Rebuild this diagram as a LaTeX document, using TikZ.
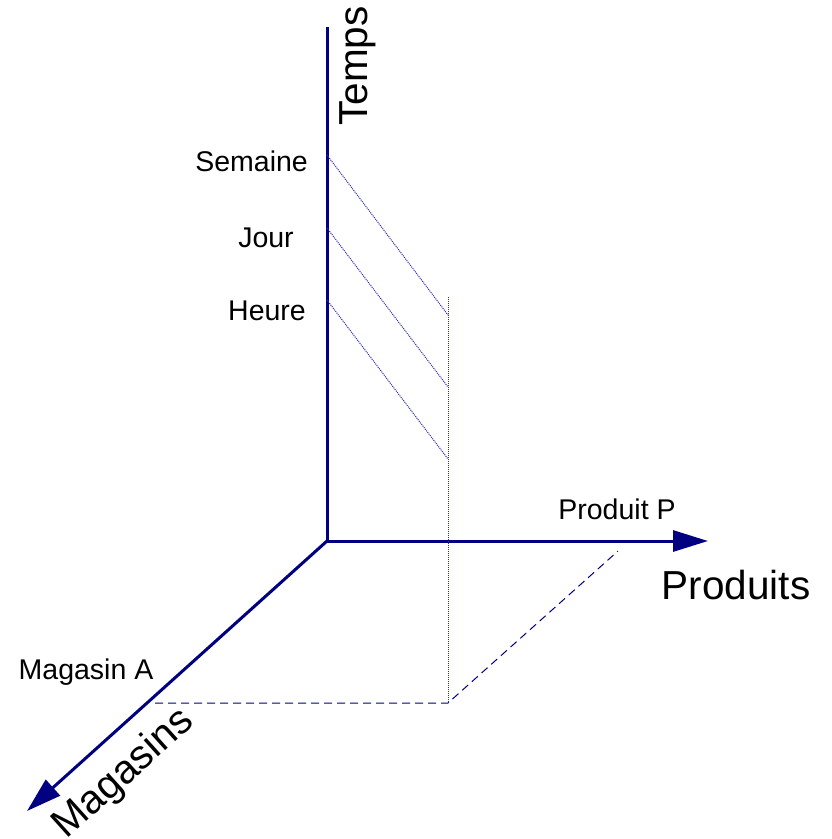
\documentclass[tikz,border=0pt]{standalone}
\usepackage{fontspec}
\setmainfont{Liberation Sans}
\usetikzlibrary{arrows.meta}
\definecolor{axisblue}{RGB}{0,0,128}
\definecolor{guideblue}{RGB}{40,40,170}
\begin{document}
\begin{tikzpicture}[x=1pt,y=-1pt,
  axis/.style={draw=axisblue, line width=3pt},
  arrowaxis/.style={axis, -{Triangle[length=35pt,width=21pt]}},
  guide/.style={draw=guideblue, line width=1pt, dash pattern=on 1pt off 1pt},
  proj/.style={draw=axisblue, line width=1pt, dash pattern=on 8pt off 5pt},
  small/.style={inner sep=0pt, font=\fontsize{28.5}{32}\selectfont},
  big/.style={inner sep=0pt, font=\fontsize{40.5}{46}\selectfont}]
\useasboundingbox (0,0) rectangle (831,839);

% axes
\coordinate (O) at (327,541);
\coordinate (ttop) at (327,27);
\coordinate (ptip) at (708,541);
\coordinate (mtip) at (27,811);
\draw[axis] (O) -- (ttop);
\draw[arrowaxis] (O) -- (ptip);
\draw[arrowaxis] (O) -- (mtip);

% time levels projected onto the product/store plane
\coordinate (sem) at (327,155);
\coordinate (jour) at (327,228);
\coordinate (heure) at (327,300);
\coordinate (semP) at (448,315);
\coordinate (jourP) at (448,387);
\coordinate (heureP) at (448,459);
\coordinate (vtop) at (448,297);
\coordinate (corner) at (448,703);
\coordinate (pA) at (155,703);
\coordinate (pP) at (618,551);
\draw[guide] (sem) -- (semP);
\draw[guide] (jour) -- (jourP);
\draw[guide] (heure) -- (heureP);
\draw[guide] (vtop) -- (corner);
\draw[proj] (pA) -- (corner) -- (pP);

% labels
\node[big, rotate=90] (temps) at (358,66) {Temps};
\node[big] (produits) at (736,585) {Produits};
\node[big, rotate=42] (magasins) at (124,774) {Magasins};
\node[small, anchor=east] (lsem) at (308,161) {Semaine};
\node[small] (ljour) at (266,238) {Jour};
\node[small] (lheure) at (267,311) {Heure};
\node[small] (lprod) at (617,509) {Produit P};
\node[small] (lmag) at (86,672) {Magasin A};
\end{tikzpicture}
\end{document}
